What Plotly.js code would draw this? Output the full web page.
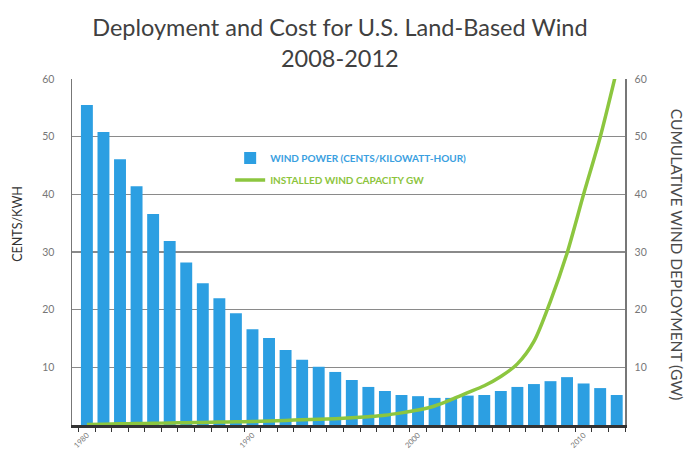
<!DOCTYPE html>
<html>
<head>
<meta charset="utf-8">
<script src="https://cdn.plot.ly/plotly-3.0.1.min.js"></script>
<style>html,body{margin:0;padding:0;background:#fff;}#chart{width:688px;height:450px;}</style>
</head>
<body>
<div id="chart"></div>
<script>
var years = [1980,1981,1982,1983,1984,1985,1986,1987,1988,1989,1990,1991,1992,1993,1994,1995,1996,1997,1998,1999,2000,2001,2002,2003,2004,2005,2006,2007,2008,2009,2010,2011,2012];
var costCents = [55.5,50.8,46.1,41.4,36.6,31.9,28.2,24.6,22.0,19.4,16.6,15.1,13.0,11.3,10.1,9.2,7.8,6.6,5.9,5.2,5.0,4.7,4.7,5.1,5.2,5.9,6.6,7.1,7.6,8.3,7.2,6.4,5.2];
var capacityGW = [0.1,0.15,0.2,0.25,0.3,0.35,0.4,0.45,0.5,0.55,0.6,0.7,0.8,0.9,1.0,1.1,1.25,1.45,1.7,2.1,2.6,3.3,4.4,5.6,6.8,8.4,10.6,14.5,21.5,29.8,40.0,49.9,61.5];
var tickYears = [1980,1990,2000,2010];
var tickLabels = ['1980','1990','2000','2010'];
var yTicks = [0,10,20,30,40,50,60];
var yTickLabels = ['','10','20','30','40','50','60'];

var titleText = 'Deployment and Cost for U.S. Land-Based Wind<br>2008-2012';
var leftTitle = 'CENTS/KWH';
var rightTitle = 'CUMULATIVE WIND DEPLOYMENT (GW)';
var barName = 'WIND POWER (CENTS/KILOWATT-HOUR)';
var lineName = 'INSTALLED WIND CAPACITY GW';

var blue = '#2c9fe2';
var green = '#8cc63f';

var traces = [
  {type:'bar', x:years, y:costCents, name:barName, marker:{color:blue, line:{width:0}}, width:0.72, yaxis:'y', legend:'legend', hoverinfo:'x+y'},
  {type:'scatter', mode:'lines', x:years, y:capacityGW, name:lineName, yaxis:'y2', legend:'legend2',
   line:{color:green, width:3.5, shape:'spline', smoothing:0.8}, cliponaxis:true}
];

var layout = {
  width:688, height:450,
  margin:{l:72, r:63, t:79, b:25},
  paper_bgcolor:'#fff', plot_bgcolor:'#fff',
  font:{family:'Lato, "Open Sans", sans-serif', color:'#666'},
  title:{text:titleText, font:{family:'Lato, sans-serif', size:23.5, color:'#404040'}, x:0.494, xanchor:'center', xref:'container', y:0.92, yanchor:'middle', yref:'container'},
  bargap:0.28,
  xaxis:{range:[1979.1,2012.5], tickmode:'array', tickvals:tickYears, ticktext:tickLabels, tickangle:-45,
    ticks:'',
    minor:{tick0:1979.5, dtick:1, ticks:'outside', ticklen:4, tickcolor:'#333', tickwidth:1, showgrid:false},
    showline:true, linecolor:'#333', linewidth:3, showgrid:false, zeroline:false,
    tickfont:{size:7.6, color:'#777'}, fixedrange:true},
  yaxis:{range:[0,60], tickmode:'array', tickvals:yTicks, ticktext:yTickLabels, showgrid:true, gridcolor:'#8a8a8a', gridwidth:1.3,
    showline:true, linecolor:'#777', linewidth:1.5, zeroline:false, ticks:'outside', ticklen:14, tickcolor:'rgba(0,0,0,0)',
    tickfont:{size:10.5, color:'#777'}, fixedrange:true},
  yaxis2:{range:[0,60], overlaying:'y', side:'right', tickmode:'array', tickvals:yTicks, ticktext:yTickLabels, showgrid:false,
    showline:true, linecolor:'#777', linewidth:1.5, zeroline:false, ticks:'outside', ticklen:6, tickcolor:'rgba(0,0,0,0)',
    tickfont:{size:10.5, color:'#777'}, fixedrange:true},
  showlegend:true,
  legend:{x:0.286, y:0.772, xanchor:'left', yanchor:'middle', bgcolor:'rgba(0,0,0,0)', font:{size:10, color:'#3aa0e0', family:'Lato, sans-serif', weight:'bold'}},
  legend2:{x:0.286, y:0.708, xanchor:'left', yanchor:'middle', bgcolor:'rgba(0,0,0,0)', font:{size:10, color:'#8cc43c', family:'Lato, sans-serif', weight:'bold'}},
  annotations:[
    {text:leftTitle, xref:'paper', yref:'paper', x:-0.098, y:0.581, xanchor:'center', yanchor:'middle', textangle:-90, showarrow:false, font:{size:12.5, color:'#333', family:'Lato, sans-serif'}},
    {text:rightTitle, xref:'paper', yref:'paper', x:1.093, y:0.491, xanchor:'center', yanchor:'middle', textangle:90, showarrow:false, font:{size:15.5, color:'#4a4a4a', family:'Lato, sans-serif'}}
  ]
};

Plotly.newPlot('chart', traces, layout, {displayModeBar:false, staticPlot:true});
</script>
</body>
</html>
